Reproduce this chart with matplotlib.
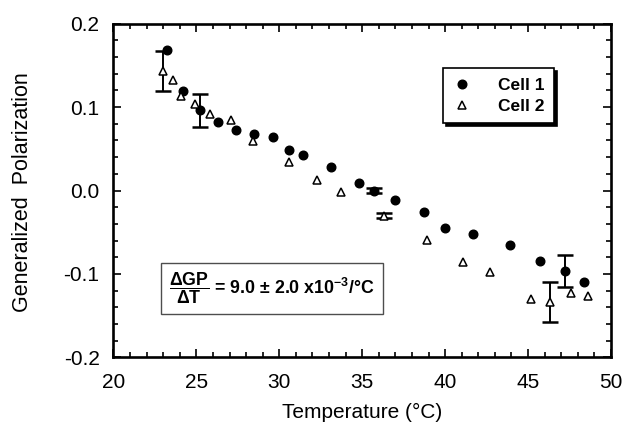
import numpy as np
import matplotlib.pyplot as plt
from matplotlib.ticker import MultipleLocator

plt.rcParams['font.family'] = ['Liberation Sans', 'DejaVu Sans']
plt.rcParams['mathtext.fontset'] = 'custom'
plt.rcParams['mathtext.rm'] = 'Liberation Sans:bold'
plt.rcParams['mathtext.it'] = 'Liberation Sans:bold'
plt.rcParams['mathtext.bf'] = 'Liberation Sans:bold'

# Cell 1 (filled circles)
cell1_t = [23.2, 24.2, 25.2, 26.3, 27.4, 28.5, 29.6, 30.6, 31.4, 33.1,
           34.8, 35.7, 37.0, 38.7, 40.0, 41.7, 43.9, 45.7, 47.2, 48.4]
cell1_gp = [0.168, 0.119, 0.096, 0.082, 0.072, 0.068, 0.064, 0.049, 0.043, 0.028,
            0.009, 0.000, -0.011, -0.026, -0.045, -0.052, -0.065, -0.084, -0.096, -0.110]
cell1_sd = [0, 0, 0.020, 0, 0, 0, 0, 0, 0, 0,
            0, 0.003, 0, 0, 0, 0, 0, 0, 0.019, 0]

# Cell 2 (open triangles)
cell2_t = [23.0, 23.6, 24.1, 24.9, 25.8, 27.1, 28.4, 30.6, 32.3, 33.7,
           36.3, 38.9, 41.1, 42.7, 45.2, 46.3, 47.6, 48.6]
cell2_gp = [0.143, 0.132, 0.113, 0.104, 0.092, 0.085, 0.059, 0.034, 0.013, -0.002,
            -0.030, -0.059, -0.086, -0.098, -0.130, -0.133, -0.123, -0.126]
cell2_sd = [0.024, 0, 0, 0, 0, 0, 0, 0, 0, 0,
            0.0035, 0, 0, 0, 0, 0.024, 0, 0]

fig = plt.figure(figsize=(6.26, 4.32), dpi=100)
ax = fig.add_axes([0.1813, 0.1725, 0.7947, 0.773])

def con_barras(t, gp, sd):
    t, gp, sd = np.array(t), np.array(gp), np.array(sd)
    m = sd > 0
    ax.errorbar(t[m], gp[m], yerr=sd[m], fmt='none', ecolor='black',
                elinewidth=1.4, capsize=5.5, capthick=1.8, zorder=2)

con_barras(cell1_t, cell1_gp, cell1_sd)
con_barras(cell2_t, cell2_gp, cell2_sd)

ax.plot(cell1_t, cell1_gp, 'o', color='black', markersize=6.2, label='Cell 1', zorder=3)
ax.plot(cell2_t, cell2_gp, '^', markerfacecolor='white', markeredgecolor='black',
        markeredgewidth=1.1, markersize=5.3, label='Cell 2', zorder=3)

ax.set_xlim(20, 50)
ax.set_ylim(-0.2, 0.2)
ax.xaxis.set_major_locator(MultipleLocator(5))
ax.xaxis.set_minor_locator(MultipleLocator(1))
ax.yaxis.set_major_locator(MultipleLocator(0.1))
ax.yaxis.set_minor_locator(MultipleLocator(0.02))
ax.yaxis.set_major_formatter(plt.FuncFormatter(lambda v, p: f'{v:.1f}'))

ax.tick_params(which='both', direction='in', top=True, right=True, width=1.2)
ax.tick_params(which='major', length=6, labelsize=15)
ax.tick_params(which='minor', length=3.5)
ax.tick_params(axis='x', which='major', pad=11)
ax.tick_params(axis='y', which='major', pad=10)
for s in ax.spines.values():
    s.set_linewidth(1.9)

ax.set_xlabel('Temperature (°C)', fontsize=15)
ax.set_ylabel('Generalized  Polarization', fontsize=15.5)
ax.xaxis.set_label_coords(0.5, -0.136)
ax.yaxis.set_label_coords(-0.162, 0.494)

leg = ax.legend(loc='upper left', bbox_to_anchor=(0.663, 0.867), frameon=True,
                fancybox=False, shadow={'color': 'black', 'alpha': 1.0},
                prop={'weight': 'bold', 'size': 12.5}, handlelength=1.0,
                handletextpad=1.6, borderpad=0.55, labelspacing=0.35,
                borderaxespad=0)
leg.get_frame().set_edgecolor('black')
leg.get_frame().set_linewidth(1.2)

ax.text(0.112, 0.207, r'$\dfrac{\Delta GP}{\Delta T}$' + ' = 9.0 ± 2.0 x10$^{-3}$/°C',
        transform=ax.transAxes, fontsize=12.8, fontweight='bold',
        ha='left', va='center',
        bbox=dict(boxstyle='square,pad=0.45', facecolor='white',
                  edgecolor='0.3', linewidth=1.0))

fig.savefig('out.png', dpi=100)
